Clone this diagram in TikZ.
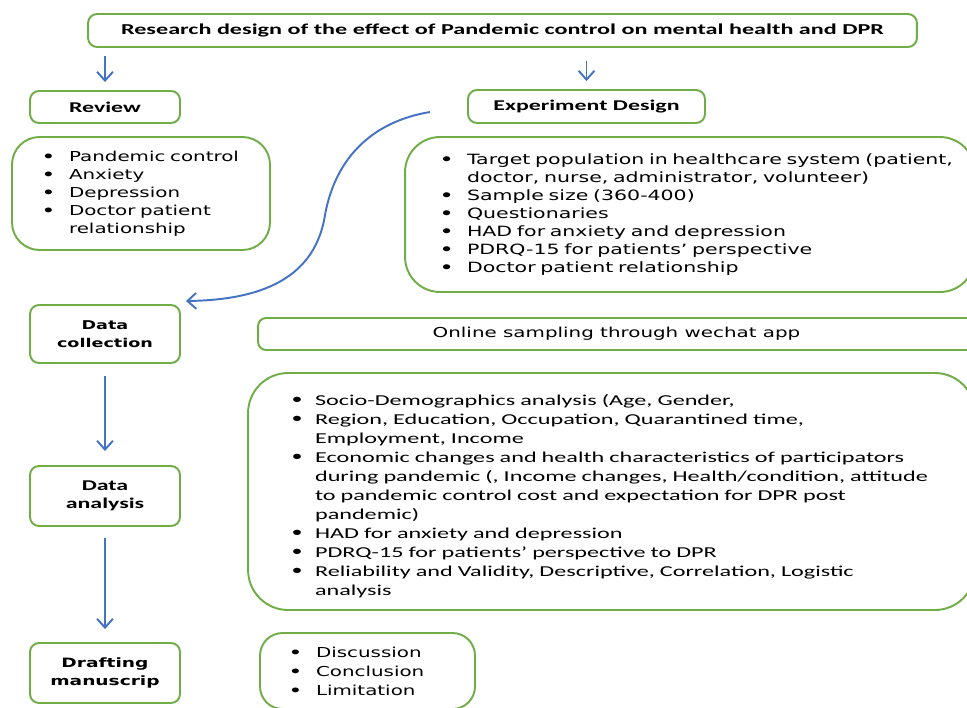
\documentclass[tikz,border=0pt]{standalone}
\usepackage{fontspec}
\setmainfont{Carlito}[FakeStretch=1.6]
\newfontfamily\vfont{DejaVu Sans}[FakeStretch=1.45]
\usetikzlibrary{arrows.meta}
\definecolor{boxgreen}{RGB}{112,173,71}
\definecolor{arrblue}{RGB}{68,114,196}
\newcommand{\blt}[2][0.54cm]{\makebox[#1][l]{{\vfont\bfseries •}}#2}
\newcommand{\cnt}[2][0.54cm]{\hspace*{#1}#2}
\begin{document}
\begin{tikzpicture}[x=0.02cm,y=-0.02cm,
  box/.style={draw=boxgreen,line width=1.1pt,rounded corners=0.18cm,fill=white,align=center,inner sep=0pt},
  head/.style={box,font=\fontsize{8.5}{10.2}\selectfont\bfseries,minimum width=3cm},
  listbox/.style={draw=boxgreen,line width=1.1pt,align=left,inner ysep=0pt},
  flow/.style={draw=arrblue,line width=1.1pt,-{Straight Barb[length=5pt,width=9pt]}}]
  \useasboundingbox (0,0) rectangle (967,707);
  \clip (0,0) rectangle (967,707);
  % top row
  \node[head,minimum width=16.58cm,minimum height=0.66cm,font=\fontsize{8.6}{10.2}\selectfont\bfseries] (title) at (502.5,30.5)
    {Research design of the effect of Pandemic control on mental health and DPR};
  \node[head,minimum height=0.64cm] (review) at (105,107) {Review};
  \node[head,minimum width=4.74cm,minimum height=0.66cm] (expd) at (586.5,106.5) {Experiment Design};
  \draw[flow,shorten <=0.16cm,shorten >=0.16cm] (title.south -| review.north) -- (review.north);
  \draw[flow,shorten <=0.26cm,shorten >=0.16cm] (title.south -| expd.north) -- (expd.north);
  % lists under the headings
  \node[listbox,rounded corners=0.55cm,text width=3.96cm,inner xsep=0.6cm,minimum height=2.26cm,
    font=\vfont\fontsize{7.8}{10.2}\selectfont] (revlist) at (141,193.5)
    {\blt{Pandemic control}\\ \blt{Anxiety}\\ \blt{Depression}\\ \blt{Doctor patient}\\ \cnt{relationship}};
  \node[listbox,rounded corners=0.7cm,text width=10cm,inner xsep=0.7cm,minimum height=3.1cm,
    font=\vfont\fontsize{8.05}{10.2}\selectfont] (explist) at (690,214.5)
    {\blt{\mbox{Target population in healthcare system (patient,}}\\
     \cnt{doctor, nurse, administrator, volunteer)}\\
     \blt{Sample size (360-400)}\\
     \blt{Questionaries}\\
     \blt{HAD for anxiety and depression}\\
     \blt{PDRQ-15 for patients’ perspective}\\
     \blt{Doctor patient relationship}};
  % left column
  \node[head,minimum height=1.16cm,font=\vfont\bfseries\fontsize{6.9}{10.2}\selectfont] (dcol) at (105,334) {Data\\collection};
  \node[head,minimum height=1.2cm] (dana) at (105,496) {Data\\analysis};
  \node[head,minimum height=1.2cm,font=\vfont\bfseries\fontsize{7.3}{10.2}\selectfont] (draft) at (105,673) {Drafting\\manuscrip};
  \coordinate (cstart) at (430,112);
  \draw[flow] (cstart) .. controls (370,122) and (335,160) .. (325,215)
    .. controls (314,285) and (250,300) .. ([shift={(5,-3)}]dcol.north east);
  \draw[flow,shorten <=0.24cm,shorten >=0.28cm] (dcol.south) -- (dana.north);
  \draw[flow,shorten <=0.22cm,shorten >=0.26cm] (dana.south) -- (draft.north);
  % right column
  \node[box,minimum width=14.34cm,minimum height=0.64cm,rounded corners=0.16cm,
    font=\vfont\fontsize{7.8}{10.2}\selectfont] (online) at (616.5,334) {Online sampling through wechat app};
  \node[listbox,rounded corners=0.8cm,text width=12.86cm,inner xsep=0.84cm,minimum height=4.74cm,
    font=\fontsize{8.6}{10.8}\selectfont] (analist) at (611.5,491.5)
    {\rule{0pt}{0.42cm}\blt[0.5cm]{Socio-Demographics analysis (Age, Gender,}\\
     \blt[0.5cm]{Region, Education, Occupation, Quarantined time,}\\
     \cnt[0.5cm]{Employment, Income}\\
     \blt[0.5cm]{Economic changes and health characteristics of participators}\\
     \cnt[0.5cm]{during pandemic (, Income changes, Health/condition, attitude}\\
     \cnt[0.5cm]{to pandemic control cost and expectation for DPR post}\\
     \cnt[0.5cm]{pandemic)}\\
     \blt[0.5cm]{HAD for anxiety and depression}\\
     \blt[0.5cm]{PDRQ-15 for patients’ perspective to DPR}\\
     \blt[0.5cm]{Reliability and Validity, Descriptive, Correlation, Logistic}\\
     \cnt[0.5cm]{analysis}};
  \node[listbox,rounded corners=0.45cm,text width=3.14cm,inner xsep=0.58cm,minimum height=1.52cm,
    font=\vfont\fontsize{7.8}{10.8}\selectfont] (conclist) at (367.5,671)
    {\blt{Discussion}\\ \blt{Conclusion}\\ \blt{Limitation}};
\end{tikzpicture}
\end{document}
